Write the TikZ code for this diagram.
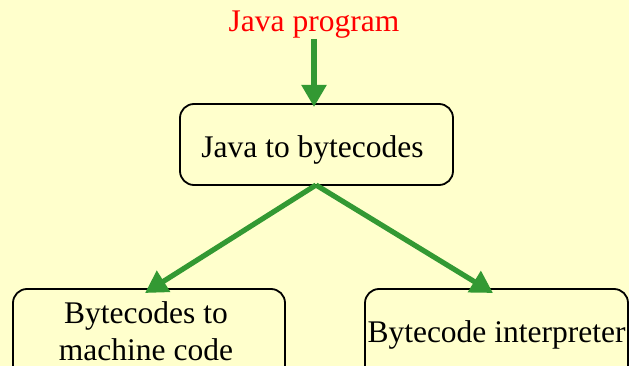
\documentclass[tikz,border=0pt]{standalone}
\usepackage{fontspec}
\setmainfont{Liberation Serif}
\usetikzlibrary{arrows.meta}
\definecolor{paper}{RGB}{255,255,204}
\definecolor{flow}{RGB}{51,153,51}
\begin{document}
\begin{tikzpicture}[x=1pt,y=-1pt,
  stage/.style={draw=black,line width=1.8pt,rounded corners=14pt},
  caption/.style={anchor=base,inner sep=0pt,font=\fontsize{31.5}{37}\selectfont,align=center},
  flowarrow/.style={draw=flow,line width=5.2pt,-{Triangle[width=24pt,length=22pt]}}]
  % canvas
  \fill[paper] (0,0) rectangle (629,366);
  \clip (0,0) rectangle (629,366);

  % compilation stages
  \draw[stage] (180,104) rectangle (453,185);
  \draw[stage] (13,289) rectangle (285,380);
  \draw[stage] (365,289) rectangle (628,380);

  \node[caption,text=red] (src) at (314,32) {Java program};
  \node[caption] (javac) at (312.5,158) {Java to bytecodes};
  \node[caption] (jit) at (146,323) {Bytecodes to};
  \node[caption] (jit2) at (146,360) {machine code};
  \node[caption] (interp) at (496.5,342) {Bytecode interpreter};

  % flow between stages
  \coordinate (srcend) at (314,39);
  \coordinate (javactop) at (314,107);
  \coordinate (javacbot) at (316,185);
  \coordinate (jittop) at (145,293);
  \coordinate (interptop) at (493,293);
  \draw[flowarrow] (srcend) -- (javactop);
  \draw[flowarrow] (javacbot) -- (jittop);
  \draw[flowarrow] (javacbot) -- (interptop);
\end{tikzpicture}
\end{document}
